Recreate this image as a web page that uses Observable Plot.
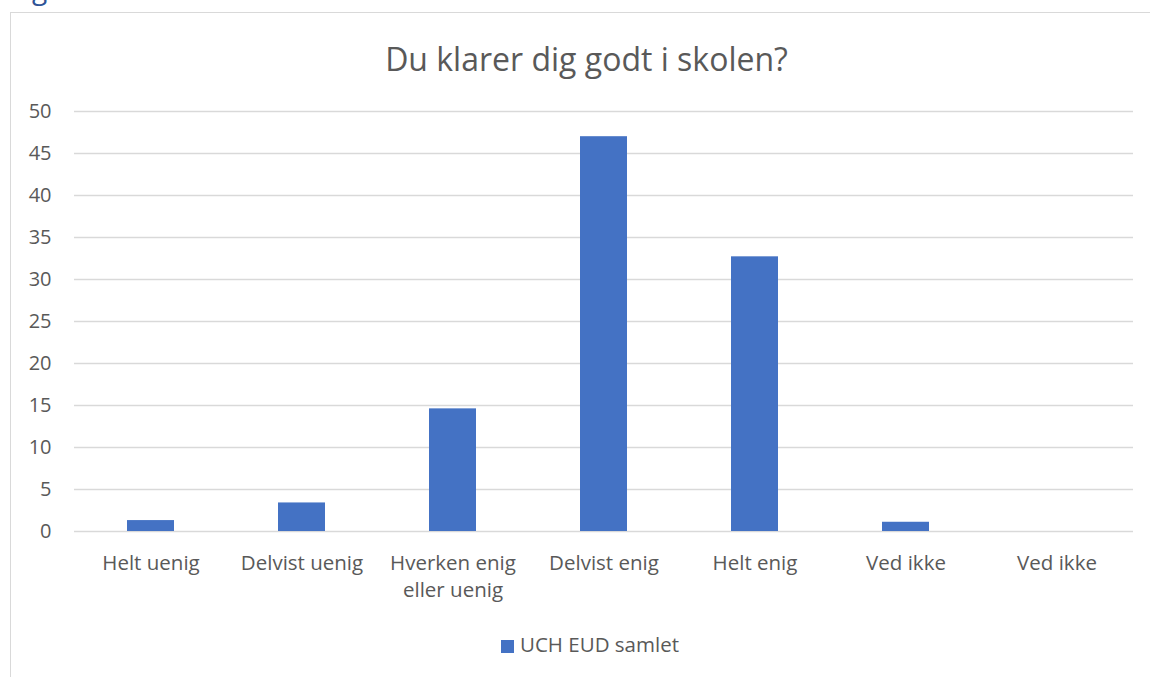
<!DOCTYPE html>
<html>
<head>
<meta charset="utf-8">
<script src="https://cdn.jsdelivr.net/npm/d3@7"></script>
<script src="https://cdn.jsdelivr.net/npm/@observablehq/plot@0.6"></script>
<style>
  html, body { margin: 0; padding: 0; background: #fff; }
  #root { position: relative; width: 1150px; height: 677px; overflow: hidden; font-family: "Open Sans", Lato, sans-serif; color: #595959; }
  #frame { position: absolute; left: 10px; top: 12px; width: 1150px; height: 700px; border-top: 1.5px solid #d9d9d9; border-left: 1.5px solid #d9d9d9; box-sizing: border-box; }
  #head { position: absolute; left: 32px; top: -31px; font-size: 28px; color: #2F5496; }
  #title { position: absolute; left: 0; width: 1173px; top: 38px; text-align: center; font-size: 32px; line-height: 42px; }
  #chart { position: absolute; left: 0; top: 90px; }
  #legend { position: absolute; left: 0; width: 1180px; top: 631px; text-align: center; font-size: 20.5px; line-height: 26px; }
  #legend .sw { display: inline-block; width: 13px; height: 13px; background: #4472C4; margin-right: 6px; vertical-align: -1px; }
</style>
</head>
<body>
<div id="root">
  <div id="head">g</div>
  <div id="frame"></div>
  <div id="title">Du klarer dig godt i skolen?</div>
  <div id="chart"></div>
  <div id="legend"><span class="sw"></span>UCH EUD samlet</div>
</div>
<script>
const categories = ["Helt uenig", "Delvist uenig", "Hverken enig\neller uenig", "Delvist enig", "Helt enig", "Ved ikke", "Ved ikke"];
const values = [1.3, 3.4, 14.6, 47.0, 32.7, 1.1, 0];
const yTicks = [0, 5, 10, 15, 20, 25, 30, 35, 40, 45, 50];
const seriesName = "UCH EUD samlet";

const data = categories.map((c, i) => ({i, category: c, value: values[i], series: seriesName}));

const chart = Plot.plot({
  width: 1150,
  height: 530,
  marginTop: 21,
  marginBottom: 89,
  marginLeft: 74,
  marginRight: 17,
  style: {fontFamily: "'Open Sans', Lato, sans-serif", fontSize: "20px", color: "#595959", background: "transparent"},
  x: {domain: d3.range(categories.length), paddingInner: 0.69, paddingOuter: 0.345},
  y: {domain: [0, 50]},
  marks: [
    Plot.gridY(yTicks, {stroke: "#d9d9d9", strokeOpacity: 1, strokeWidth: 1.3}),
    Plot.barY(data, {x: "i", y: "value", fill: "#4472C4"}),
    Plot.axisY(yTicks, {tickSize: 0, tickPadding: 23, label: null, fill: "#595959", fontSize: 20}),
    Plot.axisX({tickSize: 0, tickPadding: 19, label: null, tickFormat: (d) => categories[d], fill: "#595959", fontSize: 20.5, lineHeight: 1.32})
  ]
});
document.getElementById("chart").appendChild(chart);
</script>
</body>
</html>
